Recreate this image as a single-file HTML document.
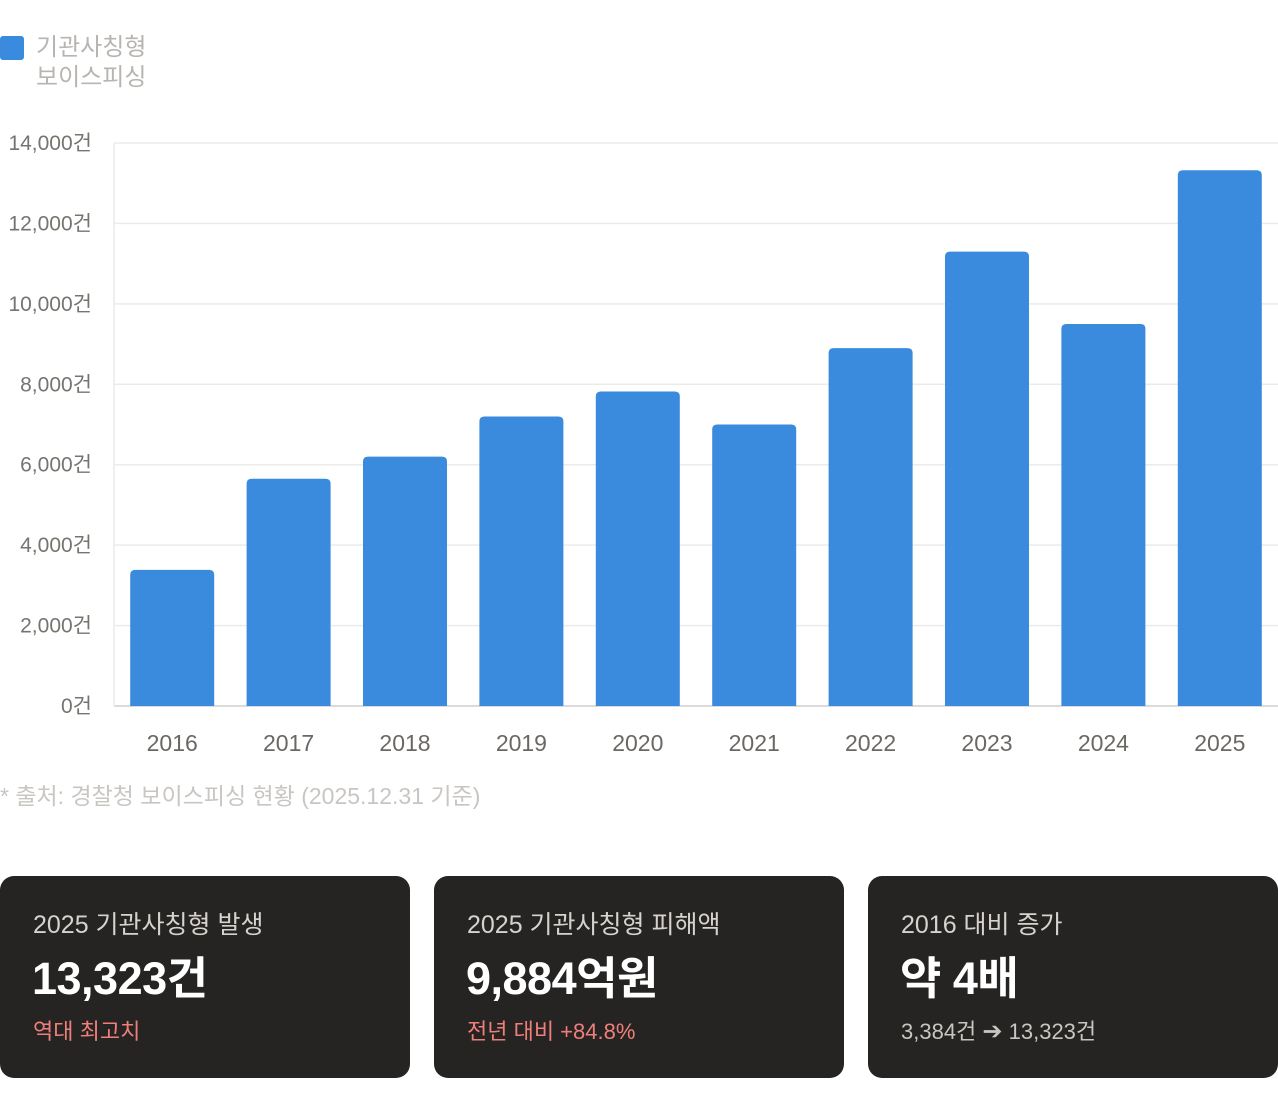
<!DOCTYPE html>
<html><head><meta charset="utf-8">
<style>
body{margin:0;width:1278px;height:1110px;background:#fff;font-family:"Liberation Sans","Noto Sans CJK KR",sans-serif;position:relative;overflow:hidden}
.card{position:absolute;top:876px;width:410px;height:202px;background:#252423;border-radius:14px}
.ct{position:absolute;left:33px;top:29px;font-size:25px;color:#d6d3cf;white-space:nowrap}
.cv{position:absolute;left:32px;top:66px;font-size:45px;font-weight:bold;color:#fff;letter-spacing:-0.5px;white-space:nowrap}
.cs{position:absolute;left:33px;top:138px;font-size:22px;color:#f07f7a;white-space:nowrap}
.cs.g{color:#c9c6c2}
</style></head><body>
<div style="position:absolute;left:0;top:32px">
<div style="position:absolute;left:0;top:4px;width:24px;height:24px;background:#3a8ade;border-radius:3px"></div>
<div style="position:absolute;left:36px;top:1px;font-size:24px;line-height:30px;color:#b8b5b1;white-space:nowrap">기관사칭형<br>보이스피싱</div>
</div>
<svg id="chart" width="1278" height="780" style="position:absolute;left:0;top:0"></svg>
<div style="position:absolute;left:0;top:777px;font-size:23px;color:#c9c6c2;white-space:nowrap">* 출처: 경찰청 보이스피싱 현황 (2025.12.31 기준)</div>
<div class="card" style="left:0"><div class="ct">2025 기관사칭형 발생</div><div class="cv">13,323건</div><div class="cs">역대 최고치</div></div>
<div class="card" style="left:434px"><div class="ct">2025 기관사칭형 피해액</div><div class="cv">9,884억원</div><div class="cs">전년 대비 +84.8%</div></div>
<div class="card" style="left:868px"><div class="ct">2016 대비 증가</div><div class="cv">약 4배</div><div class="cs g">3,384건 <span style="font-size:24px">➔</span> 13,323건</div></div>
<script>
const categories=["2016","2017","2018","2019","2020","2021","2022","2023","2024","2025"];
const values=[3384,5650,6200,7200,7820,7000,8900,11300,9500,13323];
const ticks=[0,2000,4000,6000,8000,10000,12000,14000];
const tickLabels=["0건","2,000건","4,000건","6,000건","8,000건","10,000건","12,000건","14,000건"];
const svg=document.getElementById('chart');const NS='http://www.w3.org/2000/svg';
const x0=114,x1=1278,y0=706,y1=143,max=14000;
const band=(x1-x0)/categories.length,bw=84;
const y=v=>y0-(v/max)*(y0-y1);
const xc=i=>x0+band*(i+0.5);
function mk(t,a){const e=document.createElementNS(NS,t);for(const k in a)e.setAttribute(k,a[k]);svg.appendChild(e);return e;}
ticks.forEach((t,i)=>{
 const l=mk('line',{x1:x0,x2:x1,y1:y(t),y2:y(t),stroke:t===0?'#cfcfcf':'#ebebeb','stroke-width':1.5});
 
 
 const tx=mk('text',{x:92,y:y(t)+7,'text-anchor':'end','font-size':21,fill:'#77746f'});
 tx.textContent=tickLabels[i];
 
 
});
const ax=mk('line',{x1:x0,x2:x0,y1:y1,y2:y0,stroke:'#ebebeb','stroke-width':1.5});


values.forEach((v,i)=>{
 const r=5;const xl=xc(i)-bw/2,yt=y(v);
 const p=mk('path',{d:`M${xl},${y0}V${yt+r}Q${xl},${yt} ${xl+r},${yt}H${xl+bw-r}Q${xl+bw},${yt} ${xl+bw},${yt+r}V${y0}Z`,fill:'#3a8ade'});
 
 
 const tx=mk('text',{x:xc(i),y:751,'text-anchor':'middle','font-size':23,fill:'#6b6864'});
 tx.textContent=categories[i];
 
 
});
</script>
</body></html>
